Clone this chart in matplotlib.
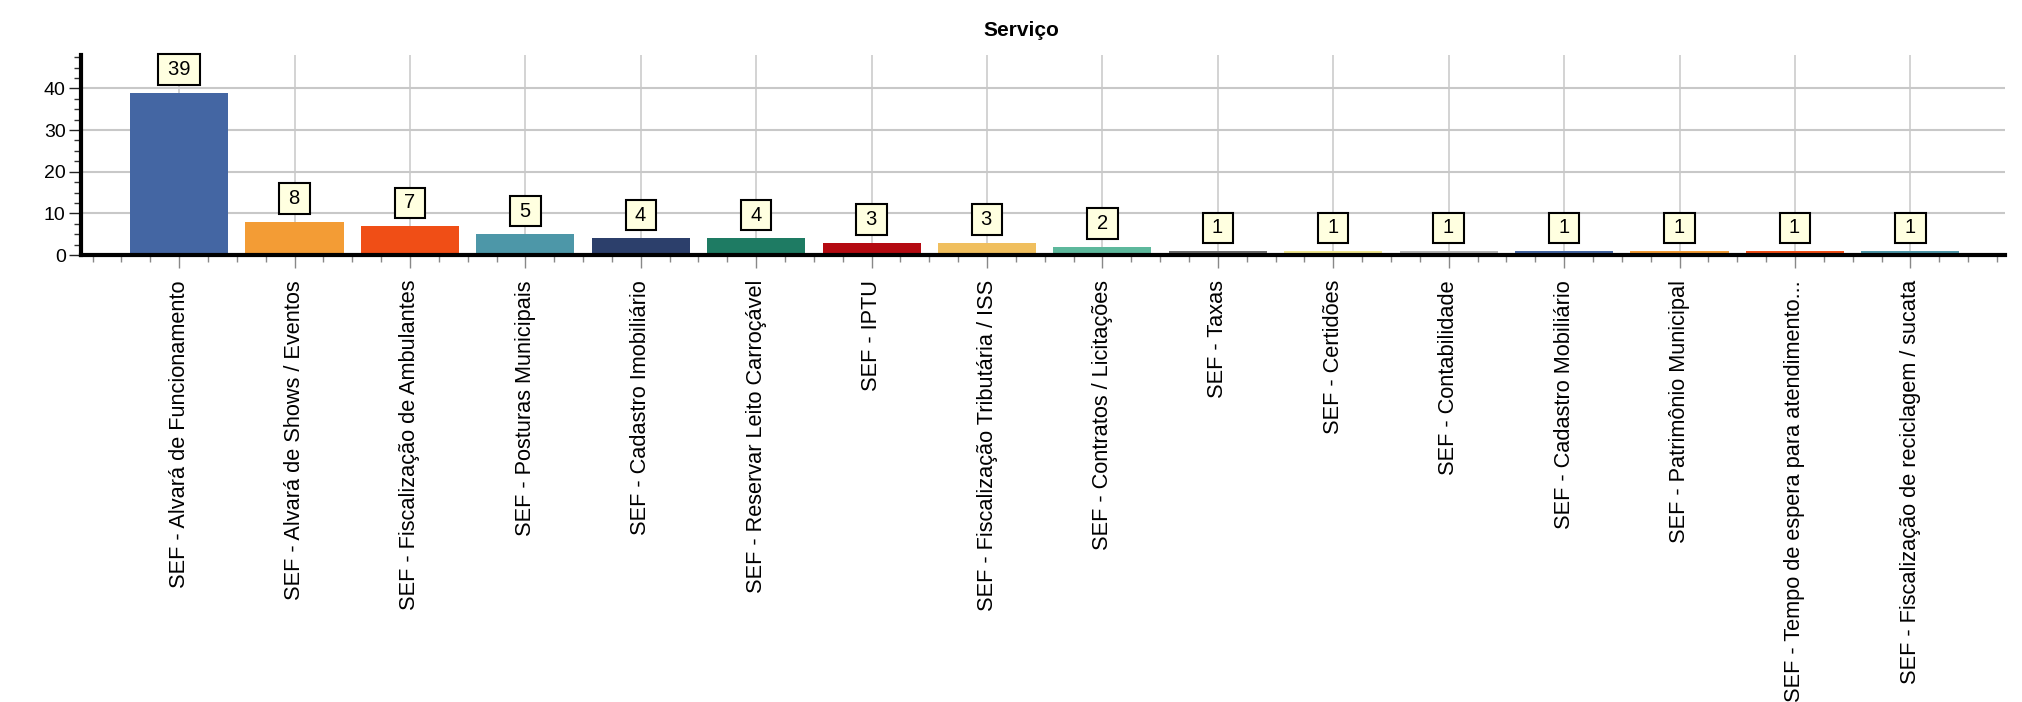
#! /usr/bin/env python

import numpy as np
import matplotlib
matplotlib.use("Agg")
import matplotlib.pyplot as plt
from matplotlib.ticker import MultipleLocator, FixedLocator

########################################################################################
# Data
########################################################################################

title = "Serviço"

categories = [
    "SEF - Alvará de Funcionamento",
    "SEF - Alvará de Shows / Eventos",
    "SEF - Fiscalização de Ambulantes",
    "SEF - Posturas Municipais",
    "SEF - Cadastro Imobiliário",
    "SEF - Reservar Leito Carroçável",
    "SEF - IPTU",
    "SEF - Fiscalização Tributária / ISS",
    "SEF - Contratos / Licitações",
    "SEF - Taxas",
    "SEF - Certidões",
    "SEF - Contabilidade",
    "SEF - Cadastro Mobiliário",
    "SEF - Patrimônio Municipal",
    "SEF - Tempo de espera para atendimento...",
    "SEF - Fiscalização de reciclagem / sucata",
]

counts = [39, 8, 7, 5, 4, 4, 3, 3, 2, 1, 1, 1, 1, 1, 1, 1]

palette = ["#4466a3", "#f39c35", "#f04e16", "#4d97a8", "#2c3f6b", "#1e7b63",
           "#b40a11", "#f0bf5e", "#5db89c", "#6b6b6b", "#f0e68c", "#b4b4b4"]

########################################################################################
# Plot
########################################################################################

plt.rcParams['font.family'] = ['Liberation Sans', 'DejaVu Sans']

W, H = 2022, 702
fig = plt.figure(figsize=(W / 100.0, H / 100.0), dpi=100)
ax = fig.add_axes([81.0 / W, 1 - 255.0 / H, (2005.0 - 81.0) / W, (255.0 - 55.0) / H])

x = np.arange(len(categories))
colors = [palette[i % len(palette)] for i in range(len(categories))]
ax.bar(x, counts, width=0.85, color=colors, zorder=2)

# value labels in small boxes
for xi, v in zip(x, counts):
    ax.annotate("\u2009%d\u2009" % v, xy=(xi, v), xytext=(0, 9.8), textcoords='offset points',
                ha='center', va='bottom', fontsize=14.5, zorder=5,
                bbox=dict(boxstyle='square,pad=0.28', fc='#ffffe0', ec='black', lw=1.5))

# axes limits and ticks
ax.set_xlim(-0.85, 15.82)
ax.set_ylim(0, 48)
ax.set_xticks(x)
ax.set_xticklabels(categories, rotation=90, ha='center', va='top', fontsize=15.7)
ax.xaxis.set_minor_locator(MultipleLocator(0.25))
ax.yaxis.set_major_locator(FixedLocator([0, 10, 20, 30, 40]))
ax.yaxis.set_minor_locator(MultipleLocator(2.5))
ax.tick_params(axis='y', which='major', length=9, width=1.0, color='#222222', labelsize=14, pad=2)
ax.tick_params(axis='y', which='minor', length=5, width=1.0, color='#333333')
ax.tick_params(axis='x', which='major', length=9, width=1.0, color='#888888', pad=9)
ax.tick_params(axis='x', which='minor', length=5, width=1.0, color='#888888')

# spines
for s in ['top', 'right']:
    ax.spines[s].set_visible(False)
ax.spines['left'].set_linewidth(3.0)
ax.spines['bottom'].set_linewidth(3.0)

# grid
ax.set_axisbelow(True)
ax.yaxis.grid(True, which='major', color='#c8c8c8', lw=1.5)
ax.xaxis.grid(True, which='major', color='#c8c8c8', lw=1.1)

fig.text(0.505, 1 - 30.0 / H, title, ha='center', va='center', fontsize=15, fontweight='bold')

fig.savefig("out.png", dpi=100)
